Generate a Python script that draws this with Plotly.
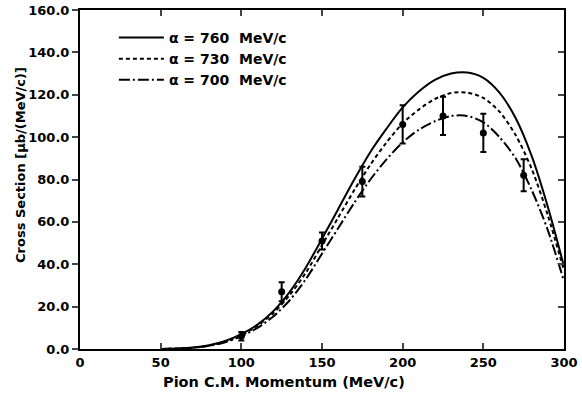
import plotly.graph_objects as go

# Curve samples (pion C.M. momentum, MeV/c)
curve_x = [50, 60, 70, 80, 90, 100, 110, 120, 130, 140, 150, 160, 170, 180, 190,
           200, 210, 220, 230, 240, 250, 260, 270, 280, 290, 300]
sigma_760 = [0, 0.2, 0.7, 1.8, 3.8, 7, 11.5, 18, 27, 38.5, 52, 66, 80, 93, 104,
             114, 121.5, 127, 130, 130.5, 128, 121, 109, 91, 67, 39]
sigma_730 = [0, 0.2, 0.6, 1.6, 3.5, 6.5, 11, 17, 25.5, 36, 49, 62, 75, 87, 97.5,
             106.5, 113, 118, 120.8, 121, 118.5, 112, 101, 85, 63, 37]
sigma_700 = [0, 0.2, 0.6, 1.5, 3.2, 6, 10, 15.5, 23, 33, 45, 57, 69, 80, 89.5,
             97.5, 103.5, 107.5, 110, 110, 107, 100, 90, 75, 56, 32]

# Measured points
data_x = [100, 125, 150, 175, 200, 225, 250, 275]
data_y = [6, 27, 51, 79, 106, 110, 102, 82]
data_err = [2, 4.5, 4, 7, 9, 9, 9, 7.5]

legend_names = ["\u03b1 = 760  MeV/c", "\u03b1 = 730  MeV/c", "\u03b1 = 700  MeV/c"]
x_ticks = [0, 50, 100, 150, 200, 250, 300]
y_ticks = [0, 20, 40, 60, 80, 100, 120, 140, 160]
x_title = "Pion C.M. Momentum (MeV/c)"
y_title = "Cross Section [\u03bcb/(MeV/c)]"

FONT = "DejaVu Sans"
fig = go.Figure()
styles = [("solid", sigma_760), ("4px,3px", sigma_730), ("11px,3px,2px,3px", sigma_700)]
for name, (dash, ys) in zip(legend_names, styles):
    fig.add_trace(go.Scatter(x=curve_x, y=ys, mode="lines", name=name,
                             line=dict(color="black", width=2, dash=dash, shape="spline",
                                       smoothing=0.8)))

fig.add_trace(go.Scatter(x=data_x, y=data_y, mode="markers", showlegend=False,
                         marker=dict(color="black", size=7),
                         error_y=dict(type="data", array=data_err, color="black",
                                      thickness=2, width=3)))
# invisible trace for right axis
fig.add_trace(go.Scatter(x=[0], y=[0], yaxis="y2", mode="markers",
                         marker=dict(opacity=0), showlegend=False, hoverinfo="skip"))

fig.update_layout(
    width=582, height=397,
    margin=dict(l=80, r=18, t=10, b=48),
    paper_bgcolor="white", plot_bgcolor="white",
    font=dict(family=FONT, size=13, color="black", weight="bold"),
    showlegend=True,
    legend=dict(x=0.07, y=0.965, xanchor="left", yanchor="top",
                bgcolor="rgba(0,0,0,0)", font=dict(size=14, family=FONT, weight="bold"),
                tracegroupgap=0, itemwidth=45),
    xaxis=dict(range=[0, 300], tickvals=x_ticks, ticks="inside", ticklen=6,
               tickwidth=1.5, linecolor="black", linewidth=2, mirror="ticks",
               showgrid=False, zeroline=False, automargin=False,
               tickfont=dict(size=13)),
    yaxis=dict(range=[0, 160], tickvals=y_ticks, tickformat=".1f", ticks="outside",
               ticklen=6, tickwidth=1.5, linecolor="black", linewidth=2, mirror=True,
               showgrid=False, zeroline=False, automargin=False,
               tickfont=dict(size=13)),
    yaxis2=dict(range=[0, 160], tickvals=y_ticks, overlaying="y", side="right",
                ticks="inside", ticklen=6, tickwidth=1.5, showticklabels=False,
                showgrid=False, zeroline=False, showline=False, automargin=False),
    annotations=[
        dict(text=x_title, xref="paper", yref="paper", x=0.4215, y=-0.097,
             xanchor="center", yanchor="middle", showarrow=False,
             font=dict(size=14.5, family=FONT, weight="bold")),
        dict(text=y_title, xref="paper", yref="paper", x=-0.1219, y=0.543,
             xanchor="center", yanchor="middle", showarrow=False, textangle=-90,
             font=dict(size=13, family=FONT, weight="bold")),
    ],
)

fig.write_html("out.html")
